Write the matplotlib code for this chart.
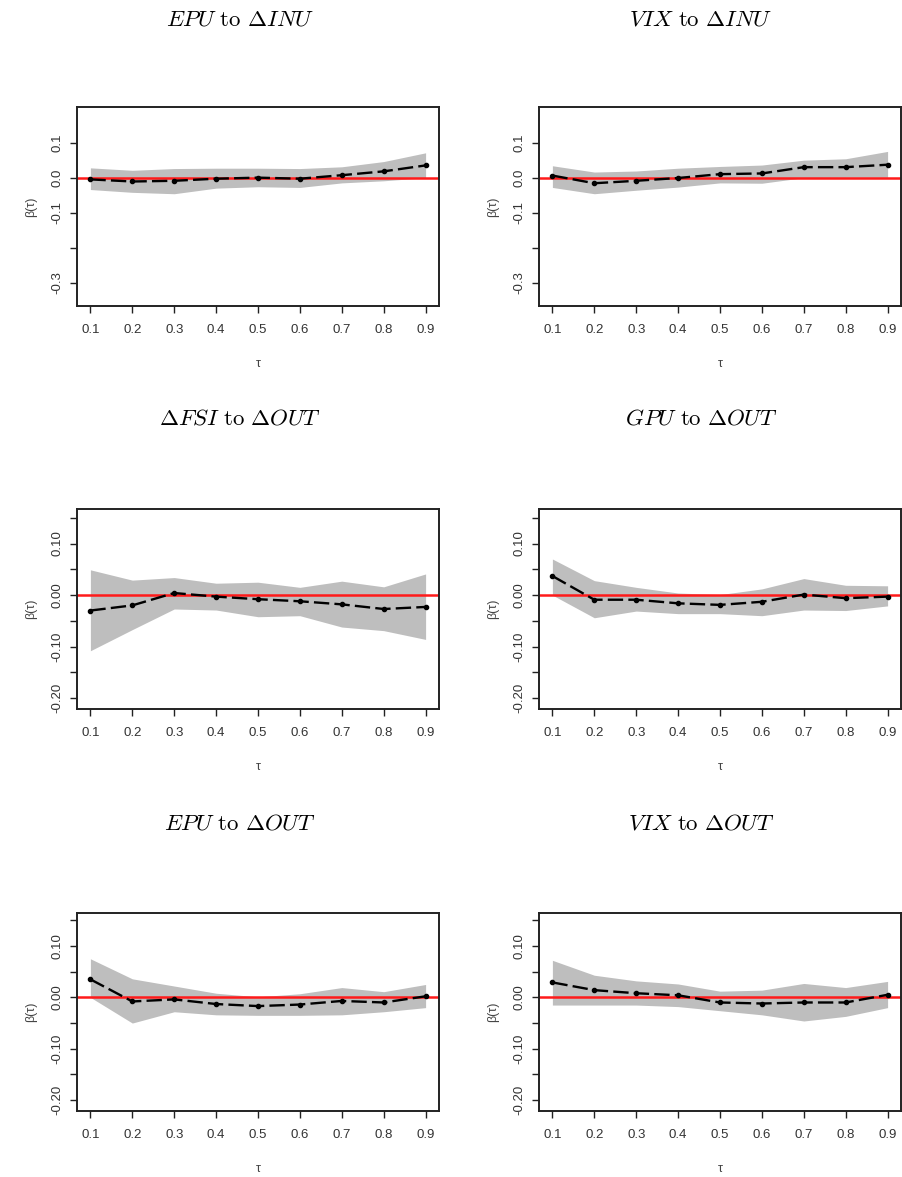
import matplotlib
matplotlib.use("Agg")
import matplotlib.pyplot as plt
import numpy as np

plt.rcParams['font.family'] = ['Liberation Sans', 'DejaVu Sans']
plt.rcParams['mathtext.fontset'] = 'cm'

tau = [0.1, 0.2, 0.3, 0.4, 0.5, 0.6, 0.7, 0.8, 0.9]

titles = [r'$EPU\ \mathrm{to}\ \Delta INU$', r'$VIX\ \mathrm{to}\ \Delta INU$',
          r'$\Delta FSI\ \mathrm{to}\ \Delta OUT$', r'$GPU\ \mathrm{to}\ \Delta OUT$',
          r'$EPU\ \mathrm{to}\ \Delta OUT$', r'$VIX\ \mathrm{to}\ \Delta OUT$']

# coefficient estimates
coef_epu_inu = [-0.005, -0.011, -0.009, -0.003, 0.000, -0.003, 0.007, 0.018, 0.035]
coef_vix_inu = [0.006, -0.016, -0.009, -0.001, 0.010, 0.012, 0.030, 0.030, 0.037]
coef_fsi_out = [-0.030, -0.020, 0.004, -0.003, -0.008, -0.012, -0.018, -0.027, -0.023]
coef_gpu_out = [0.037, -0.009, -0.009, -0.016, -0.019, -0.013, 0.001, -0.006, -0.003]
coef_epu_out = [0.035, -0.008, -0.004, -0.013, -0.017, -0.014, -0.007, -0.010, 0.002]
coef_vix_out = [0.029, 0.014, 0.008, 0.004, -0.010, -0.012, -0.010, -0.010, 0.005]

# upper confidence bounds
up_epu_inu = [0.028, 0.021, 0.026, 0.027, 0.027, 0.026, 0.031, 0.046, 0.071]
up_vix_inu = [0.034, 0.016, 0.019, 0.027, 0.032, 0.036, 0.050, 0.054, 0.075]
up_fsi_out = [0.049, 0.029, 0.034, 0.023, 0.025, 0.015, 0.027, 0.016, 0.041]
up_gpu_out = [0.070, 0.028, 0.015, 0.004, 0.001, 0.012, 0.032, 0.019, 0.018]
up_epu_out = [0.075, 0.036, 0.022, 0.008, 0.001, 0.007, 0.019, 0.011, 0.025]
up_vix_out = [0.072, 0.043, 0.032, 0.026, 0.012, 0.014, 0.027, 0.019, 0.031]

# lower confidence bounds
lo_epu_inu = [-0.034, -0.042, -0.046, -0.030, -0.026, -0.028, -0.015, -0.009, 0.000]
lo_vix_inu = [-0.028, -0.046, -0.036, -0.027, -0.015, -0.016, 0.000, 0.001, 0.001]
lo_fsi_out = [-0.108, -0.067, -0.027, -0.029, -0.042, -0.040, -0.062, -0.069, -0.086]
lo_gpu_out = [0.000, -0.044, -0.031, -0.036, -0.036, -0.040, -0.029, -0.030, -0.021]
lo_epu_out = [0.000, -0.050, -0.028, -0.034, -0.035, -0.035, -0.034, -0.028, -0.020]
lo_vix_out = [-0.015, -0.015, -0.015, -0.018, -0.026, -0.034, -0.046, -0.037, -0.020]

coefs = [coef_epu_inu, coef_vix_inu, coef_fsi_out, coef_gpu_out, coef_epu_out, coef_vix_out]
ups = [up_epu_inu, up_vix_inu, up_fsi_out, up_gpu_out, up_epu_out, up_vix_out]
los = [lo_epu_inu, lo_vix_inu, lo_fsi_out, lo_gpu_out, lo_epu_out, lo_vix_out]

yticks_row1 = [0.1, 0.0, -0.1, -0.2, -0.3]
ylabels_row1 = ['0.1', '0.0', '-0.1', '', '-0.3']
yticks_rows23 = [0.15, 0.10, 0.05, 0.00, -0.05, -0.10, -0.15, -0.20]
ylabels_rows23 = ['', '0.10', '', '0.00', '', '-0.10', '', '-0.20']

W, H = 902, 1177
fig = plt.figure(figsize=(W / 100, H / 100), dpi=100)

# pixel boxes (left, top, right, bottom)
rows_px = [(107, 306), (509, 709), (913, 1111)]
cols_px = [(77, 439), (539, 901)]
ylims = [(-0.367, 0.202), (-0.221, 0.167), (-0.221, 0.164)]
title_y = [19, 418, 823]
title_x = [240, 701]

for i in range(6):
    r, c = divmod(i, 2)
    t, b = rows_px[r]
    l, rr = cols_px[c]
    ax = fig.add_axes([l / W, 1 - b / H, (rr - l) / W, (b - t) / H])
    ax.fill_between(tau, los[i], ups[i], color='#bebebe', linewidth=0, zorder=1)
    ax.axhline(0, color='#ff1a1a', lw=1.8, zorder=2)
    ax.plot(tau, coefs[i], color='black', lw=1.7, linestyle=(0, (6.5, 2.2)),
            marker='o', markersize=3.0, zorder=3)
    ax.set_xlim(0.068, 0.932)
    ax.set_ylim(*ylims[r])
    ax.set_xticks(tau)
    ax.set_xticklabels([f'{v:.1f}' for v in tau])
    if r == 0:
        ax.set_yticks(yticks_row1)
        ax.set_yticklabels(ylabels_row1, rotation=90, va='center')
    else:
        ax.set_yticks(yticks_rows23)
        ax.set_yticklabels(ylabels_rows23, rotation=90, va='center')
    ax.tick_params(axis='both', labelsize=9.5, length=5, width=1, color='#222222',
                   labelcolor='#333333')
    ax.tick_params(axis='x', pad=8)
    ax.tick_params(axis='y', pad=5)
    for sp in ax.spines.values():
        sp.set_linewidth(1.4)
        sp.set_color('#222222')
    ax.set_xlabel('τ', fontsize=9, labelpad=16, color='#444444')
    ax.set_ylabel('β(τ)', fontsize=9, labelpad=10, color='#444444')
    fig.text(title_x[c] / W, 1 - title_y[r] / H, titles[i], fontsize=16.5,
             ha='center', va='center')

fig.savefig('out.png', dpi=100)
